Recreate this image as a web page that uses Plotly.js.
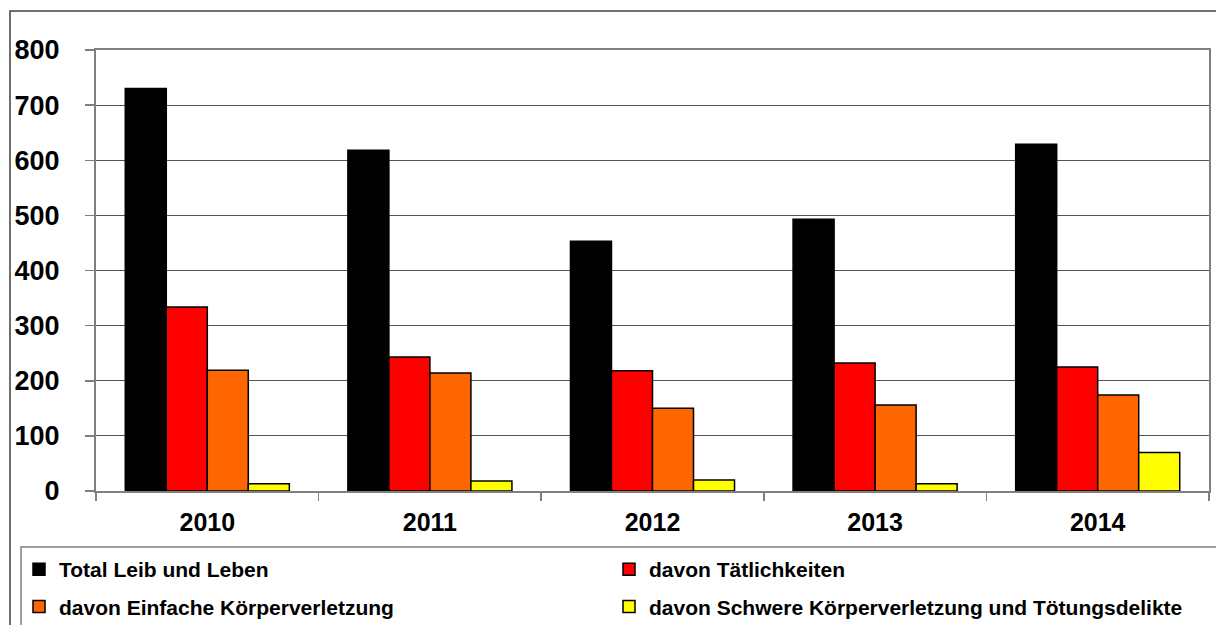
<!DOCTYPE html>
<html>
<head>
<meta charset="utf-8">
<script src="https://cdn.plot.ly/plotly-3.0.1.min.js"></script>
<style>
  html, body { margin: 0; padding: 0; background: #fff; }
  #chart { width: 1216px; height: 625px; }
</style>
</head>
<body>
<div id="chart"></div>
<script>
const years = ['2010', '2011', '2012', '2013', '2014'];
const totalLeibLeben = [730, 618, 453, 493, 629];
const taetlichkeiten = [334, 243, 218, 232, 225];
const einfacheKV = [219, 214, 150, 156, 174];
const schwereKV = [13, 18, 20, 13, 70];
const seriesNames = ['Total Leib und Leben', 'davon Tätlichkeiten', 'davon Einfache Körperverletzung', 'davon Schwere Körperverletzung und Tötungsdelikte'];
const seriesColors = ['#000000', '#FF0000', '#FF6600', '#FFFF00'];
const yTicks = [0, 100, 200, 300, 400, 500, 600, 700, 800];

const seriesValues = [totalLeibLeben, taetlichkeiten, einfacheKV, schwereKV];
const legendOf = ['legend', 'legend2', 'legend', 'legend2'];

const traces = seriesValues.map((vals, i) => ({
  type: 'bar',
  x: years,
  y: vals,
  name: seriesNames[i],
  legend: legendOf[i],
  legendgroup: 'g' + i,
  marker: { color: seriesColors[i], line: { color: '#000000', width: 1.5 } },
  hoverinfo: 'x+y+name'
}));

const W = 1216, H = 625;
const ml = 96, mr = 7, mt = 50, mb = 134;
const pw = W - ml - mr, ph = H - mt - mb;
const px = v => (v - ml) / pw;
const py = v => (H - mb - v) / ph;
const cx = v => v / W;
const cy = v => 1 - v / H;

const baseFont = { family: 'Arial, "Liberation Sans", sans-serif', color: '#000000', weight: 'bold' };

const layout = {
  width: W,
  height: H,
  margin: { l: ml, r: mr, t: mt, b: mb, pad: 0, autoexpand: false },
  paper_bgcolor: '#ffffff',
  plot_bgcolor: '#ffffff',
  font: baseFont,
  barmode: 'group',
  bargap: 0.263,
  bargroupgap: 0,
  showlegend: true,
  xaxis: {
    type: 'category',
    showline: true,
    linecolor: '#808080',
    linewidth: 2,
    mirror: true,
    ticks: 'outside',
    tickson: 'boundaries',
    ticklen: 8,
    tickcolor: '#808080',
    tickwidth: 1.5,
    showgrid: false,
    tickfont: Object.assign({}, baseFont, { size: 25 }),
    ticklabelstandoff: 8
  },
  yaxis: {
    range: [0, 800],
    tickvals: yTicks,
    ticktext: yTicks.map(String),
    showline: true,
    linecolor: '#808080',
    linewidth: 2,
    mirror: true,
    ticks: 'outside',
    ticklen: 9,
    tickcolor: '#808080',
    tickwidth: 1.5,
    showgrid: true,
    gridcolor: '#555555',
    gridwidth: 1,
    zeroline: false,
    tickfont: Object.assign({}, baseFont, { size: 27 }),
    ticklabelstandoff: 20
  },
  legend: {
    xref: 'container', yref: 'container',
    x: cx(19), xanchor: 'left',
    y: cy(549), yanchor: 'top',
    orientation: 'v',
    traceorder: 'grouped',
    tracegroupgap: 7,
    bgcolor: 'rgba(0,0,0,0)',
    borderwidth: 0,
    font: Object.assign({}, baseFont, { size: 21 })
  },
  legend2: {
    xref: 'container', yref: 'container',
    x: cx(609), xanchor: 'left',
    y: cy(549), yanchor: 'top',
    orientation: 'v',
    traceorder: 'grouped',
    tracegroupgap: 7,
    bgcolor: 'rgba(0,0,0,0)',
    borderwidth: 0,
    font: Object.assign({}, baseFont, { size: 21 })
  },
  shapes: [
    {
      type: 'rect', xref: 'paper', yref: 'paper', layer: 'below',
      x0: px(10), x1: px(1300), y0: py(11), y1: py(700),
      line: { color: '#404040', width: 1.5 }, fillcolor: 'rgba(0,0,0,0)'
    },
    {
      type: 'rect', xref: 'paper', yref: 'paper', layer: 'below',
      x0: px(21), x1: px(1300), y0: py(547), y1: py(700),
      line: { color: '#808080', width: 1.5 }, fillcolor: 'rgba(0,0,0,0)'
    }
  ]
};

Plotly.newPlot('chart', traces, layout, { displayModeBar: false, staticPlot: true });
</script>
</body>
</html>
